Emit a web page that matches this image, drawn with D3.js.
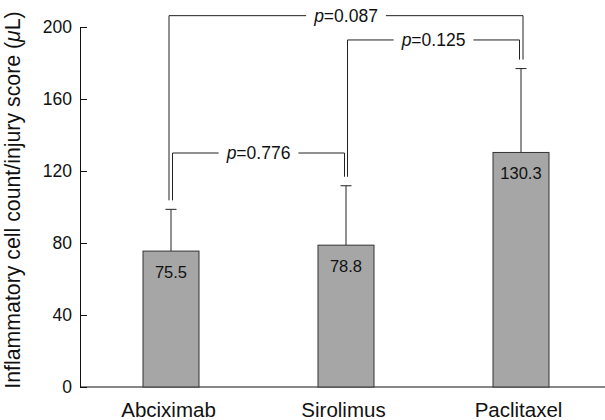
<!DOCTYPE html>
<html>
<head>
<meta charset="utf-8">
<script src="https://cdn.jsdelivr.net/npm/d3@7"></script>
<style>
  body { margin: 0; background: #fff; }
  svg { font-family: "Liberation Sans", Arial, sans-serif; display: block; }
</style>
</head>
<body>
<div id="chart"></div>
<script>
// Inflammatory cell count per injury score, by stent drug

const categories = ["Abciximab", "Sirolimus", "Paclitaxel"];
const means = [75.5, 78.8, 130.3];
const errors = [23.2, 33.0, 46.6];
const yTicks = [0, 40, 80, 120, 160, 200];

// p-value brackets: which bars, the p value, and the bracket height (data units)
const pFrom = [0, 1, 0];
const pTo = [1, 2, 2];
const pValues = ["0.776", "0.125", "0.087"];
const pLevels = [130, 192.8, 206.3];

const width = 605,
      height = 420,
      margin = ({top: 27, right: 0, bottom: 33, left: 80});

let svg = d3.select("#chart")
    .append("svg")
    .attr("width", width)
    .attr("height", height);

let x = d3.scalePoint()
    .domain(categories)
    .range([171, 521]);

let y = d3.scaleLinear()
    .domain([0, 200])
    .range([height - margin.bottom, margin.top]);

const barW = 56;

// y axis, ticks point inward
svg.append("g")
    .attr("transform", `translate(${margin.left},0)`)
    .call(d3.axisLeft(y).tickValues(yTicks).tickSizeInner(-7).tickSizeOuter(0).tickPadding(8))
    .call(g => g.selectAll("text").attr("font-size", 17.5).attr("fill", "#111"))
    .call(g => g.selectAll("line, path").attr("stroke", "#111"));

// x baseline
svg.append("line")
    .attr("x1", margin.left)
    .attr("x2", width)
    .attr("y1", y(0))
    .attr("y2", y(0))
    .attr("stroke", "#111");

// category labels
svg.append("g")
    .attr("transform", `translate(-3,${y(0)})`)
    .call(d3.axisBottom(x).tickSize(0).tickPadding(15.5))
    .call(g => g.select(".domain").remove())
    .call(g => g.selectAll("text").attr("font-size", 20.5).attr("fill", "#111"));

// y label
svg.append("text")
    .attr("transform", `translate(20,${(y(0) + 13) / 2}) rotate(-90)`)
    .attr("text-anchor", "middle")
    .attr("font-size", 21.3)
    .attr("fill", "#111")
    .call(t => {
        t.append("tspan").text("Inflammatory cell count/injury score (");
        t.append("tspan").attr("font-style", "italic").text("\u03bc");
        t.append("tspan").text("L)");
    });

let bar = svg.selectAll(".bar")
    .data(categories.map((c, i) => ({c, m: means[i], e: errors[i]})))
    .join("g")
    .attr("class", "bar");

// error bars (upper only)
bar.append("line")
    .attr("x1", d => x(d.c))
    .attr("x2", d => x(d.c))
    .attr("y1", d => y(d.m))
    .attr("y2", d => y(d.m + d.e))
    .attr("stroke", "#222");

bar.append("line")
    .attr("x1", d => x(d.c) - 5.5)
    .attr("x2", d => x(d.c) + 5.5)
    .attr("y1", d => y(d.m + d.e))
    .attr("y2", d => y(d.m + d.e))
    .attr("stroke", "#222");

bar.append("rect")
    .attr("fill", "#a6a6a6")
    .attr("stroke", "#333")
    .attr("x", d => x(d.c) - barW / 2)
    .attr("width", barW)
    .attr("y", d => y(d.m))
    .attr("height", d => y(0) - y(d.m));

bar.append("text")
    .attr("x", d => x(d.c))
    .attr("y", d => y(d.m) + 27)
    .attr("text-anchor", "middle")
    .attr("font-size", 16.5)
    .attr("fill", "#111")
    .text(d => d.m.toFixed(1));

// brackets
const legOff = [[1.5, -1.5], [1.5, -1.5], [-2, 2]];
pValues.forEach((p, i) => {
    const a = pFrom[i], b = pTo[i];
    const xa = x(categories[a]) + legOff[i][0];
    const xb = x(categories[b]) + legOff[i][1];
    const yl = y(pLevels[i]);
    const ya = y(means[a] + errors[a]) - 9;
    const yb = y(means[b] + errors[b]) - 9;
    const g = svg.append("g");
    const t = g.append("text")
        .attr("x", (xa + xb) / 2)
        .attr("y", yl + 6)
        .attr("text-anchor", "middle")
        .attr("font-size", 17.5)
        .attr("fill", "#111");
    t.append("tspan").attr("font-style", "italic").text("p");
    t.append("tspan").text("=" + p);
    const tw = t.node().getComputedTextLength();
    const gap = tw / 2 + 8;
    const mid = (xa + xb) / 2;
    g.append("path")
        .attr("fill", "none")
        .attr("stroke", "#222")
        .attr("d", `M${xa},${ya}V${yl}H${mid - gap}M${mid + gap},${yl}H${xb}V${yb}`);
});
</script>
</body>
</html>
